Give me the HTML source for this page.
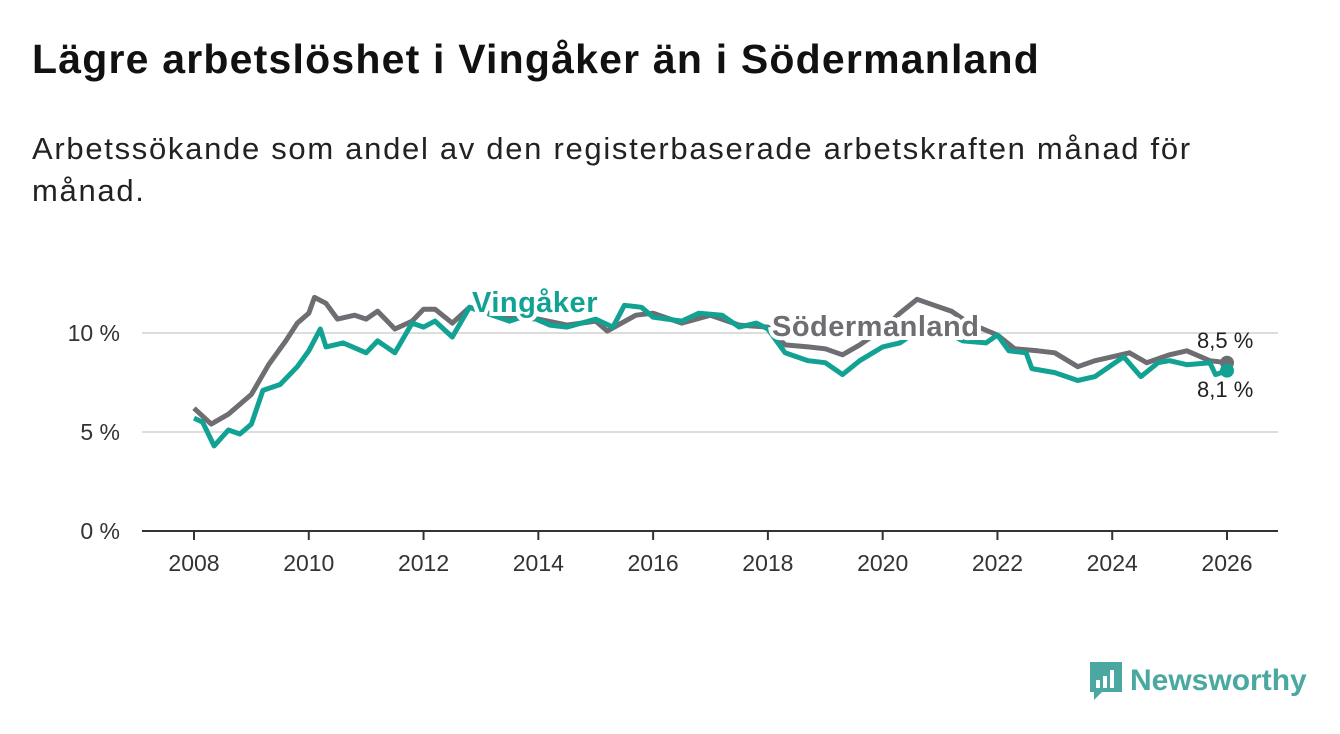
<!DOCTYPE html>
<html><head><meta charset="utf-8">
<style>
body{margin:0;background:#fff;width:1340px;height:734px;overflow:hidden;font-family:"Liberation Sans",sans-serif;}
h1{position:absolute;left:32px;top:36px;margin:0;font-size:41px;letter-spacing:1.2px;font-weight:bold;color:#111;}
p.sub{position:absolute;left:32px;top:128px;margin:0;font-size:31px;letter-spacing:1.7px;line-height:42px;color:#222;width:1250px;}
svg{position:absolute;left:0;top:0;}
</style></head><body>
<h1>Lägre arbetslöshet i Vingåker än i Södermanland</h1>
<p class="sub">Arbetssökande som andel av den registerbaserade arbetskraften månad för<br>månad.</p>
<svg id="chart" width="1340" height="734"></svg>
<div style="position:absolute;left:1088px;top:660px;display:flex;align-items:center;">
<svg width="36" height="42" style="position:static"><path d="M2 2h32v30H14l-8 8v-8H2z" fill="#4aa8a0"/><rect x="8" y="20" width="4" height="8" fill="#fff"/><rect x="15" y="16" width="4" height="12" fill="#fff"/><rect x="22" y="10" width="4" height="18" fill="#fff"/></svg>
<span style="font-size:30px;color:#4aa8a0;margin-left:6px;font-weight:bold;">Newsworthy</span></div>
<script>
const sodT=[2008.0,2008.3,2008.6,2009.0,2009.3,2009.6,2009.8,2010.0,2010.1,2010.3,2010.5,2010.8,2011.0,2011.2,2011.5,2011.8,2012.0,2012.2,2012.5,2012.8,2013.0,2013.5,2014.0,2014.5,2015.0,2015.2,2015.7,2016.0,2016.5,2017.0,2017.5,2018.0,2018.3,2018.7,2019.0,2019.3,2019.6,2020.0,2020.3,2020.6,2020.9,2021.2,2021.5,2022.0,2022.3,2022.7,2023.0,2023.4,2023.7,2024.0,2024.3,2024.6,2025.0,2025.3,2025.7,2026.0];
const sodV=[6.2,5.4,5.9,6.9,8.4,9.6,10.5,11.0,11.8,11.5,10.7,10.9,10.7,11.1,10.2,10.6,11.2,11.2,10.5,11.3,11.1,10.8,10.7,10.4,10.6,10.1,10.9,11.0,10.5,10.9,10.4,10.3,9.4,9.3,9.2,8.9,9.4,10.2,11.0,11.7,11.4,11.1,10.5,9.9,9.2,9.1,9.0,8.3,8.6,8.8,9.0,8.5,8.9,9.1,8.6,8.5];
const vinT=[2008.0,2008.15,2008.35,2008.6,2008.8,2009.0,2009.2,2009.5,2009.8,2010.0,2010.2,2010.3,2010.6,2011.0,2011.2,2011.5,2011.8,2012.0,2012.2,2012.5,2012.8,2013.1,2013.5,2013.8,2014.2,2014.5,2015.0,2015.3,2015.5,2015.8,2016.0,2016.5,2016.8,2017.2,2017.5,2017.8,2018.0,2018.3,2018.7,2019.0,2019.3,2019.6,2020.0,2020.3,2020.7,2021.0,2021.4,2021.8,2022.0,2022.2,2022.5,2022.6,2023.0,2023.4,2023.7,2024.0,2024.2,2024.5,2024.8,2025.0,2025.3,2025.7,2025.8,2026.0];
const vinV=[5.7,5.5,4.3,5.1,4.9,5.4,7.1,7.4,8.3,9.1,10.2,9.3,9.5,9.0,9.6,9.0,10.5,10.3,10.6,9.8,11.3,11.0,10.6,10.9,10.4,10.3,10.7,10.3,11.4,11.3,10.8,10.6,11.0,10.9,10.3,10.5,10.2,9.0,8.6,8.5,7.9,8.6,9.3,9.5,10.3,10.2,9.6,9.5,9.9,9.1,9.0,8.2,8.0,7.6,7.8,8.4,8.8,7.8,8.5,8.6,8.4,8.5,7.9,8.1];
const yTicks=[0,5,10];
const xTicks=[2008,2010,2012,2014,2016,2018,2020,2022,2024,2026];
const X=t=>194+(t-2008)*(1227-194)/18;
const Y=v=>531-v*19.8;
const NS="http://www.w3.org/2000/svg";
const svg=document.getElementById('chart');
function mk(tag,at){const e=document.createElementNS(NS,tag);for(const k in at)e.setAttribute(k,at[k]);svg.appendChild(e);return e;}
yTicks.forEach(v=>{
 const l=mk('line',{x1:142,x2:1278,y1:Y(v),y2:Y(v),stroke:v===0?'#333':'#ddd','stroke-width':2});
 
 
 const t=mk('text',{x:120,y:Y(v)+8,'text-anchor':'end','font-size':23,fill:'#333','font-family':'Liberation Sans, sans-serif'});
 t.textContent=v+' %';
 
 
});
xTicks.forEach(y=>{
 const l=mk('line',{x1:X(y),x2:X(y),y1:531,y2:540,stroke:'#333','stroke-width':2});
 
 
 const t=mk('text',{x:X(y),y:571,'text-anchor':'middle','font-size':23,fill:'#333','font-family':'Liberation Sans, sans-serif'});
 t.textContent=y;
 
 
});
function line(T,V,c,name){
 const d=T.map((t,i)=>(i?'L':'M')+X(t).toFixed(1)+' '+Y(V[i]).toFixed(1)).join('');
 const p=mk('path',{d:d,fill:'none',stroke:c,'stroke-width':5,'stroke-linejoin':'round'});
 
 
 const n=T.length-1;
 const c2=mk('circle',{cx:X(T[n]),cy:Y(V[n]),r:7,fill:c});
 
 
}
line(sodT,sodV,'#6e6d72','sodermanland-line');
line(vinT,vinV,'#12a293','vingaker-line');
function lab(x,y,txt,c,name,w){
 const t=mk('text',{x:x,y:y,'font-size':w?29:22,'letter-spacing':w?0.5:0,'font-weight':w?'bold':'normal',fill:c,stroke:'#fff','stroke-width':w?8:0,'paint-order':'stroke','font-family':'Liberation Sans, sans-serif'});
 t.textContent=txt;
 
 
}
lab(472,312,'Vingåker','#12a293','vingaker-label',true);
lab(772,336,'Södermanland','#6e6d72','sodermanland-label',true);
lab(1197,348,'8,5 %','#222','sodermanland-end-value',false);
lab(1197,397,'8,1 %','#222','vingaker-end-value',false);
</script>
</body></html>
